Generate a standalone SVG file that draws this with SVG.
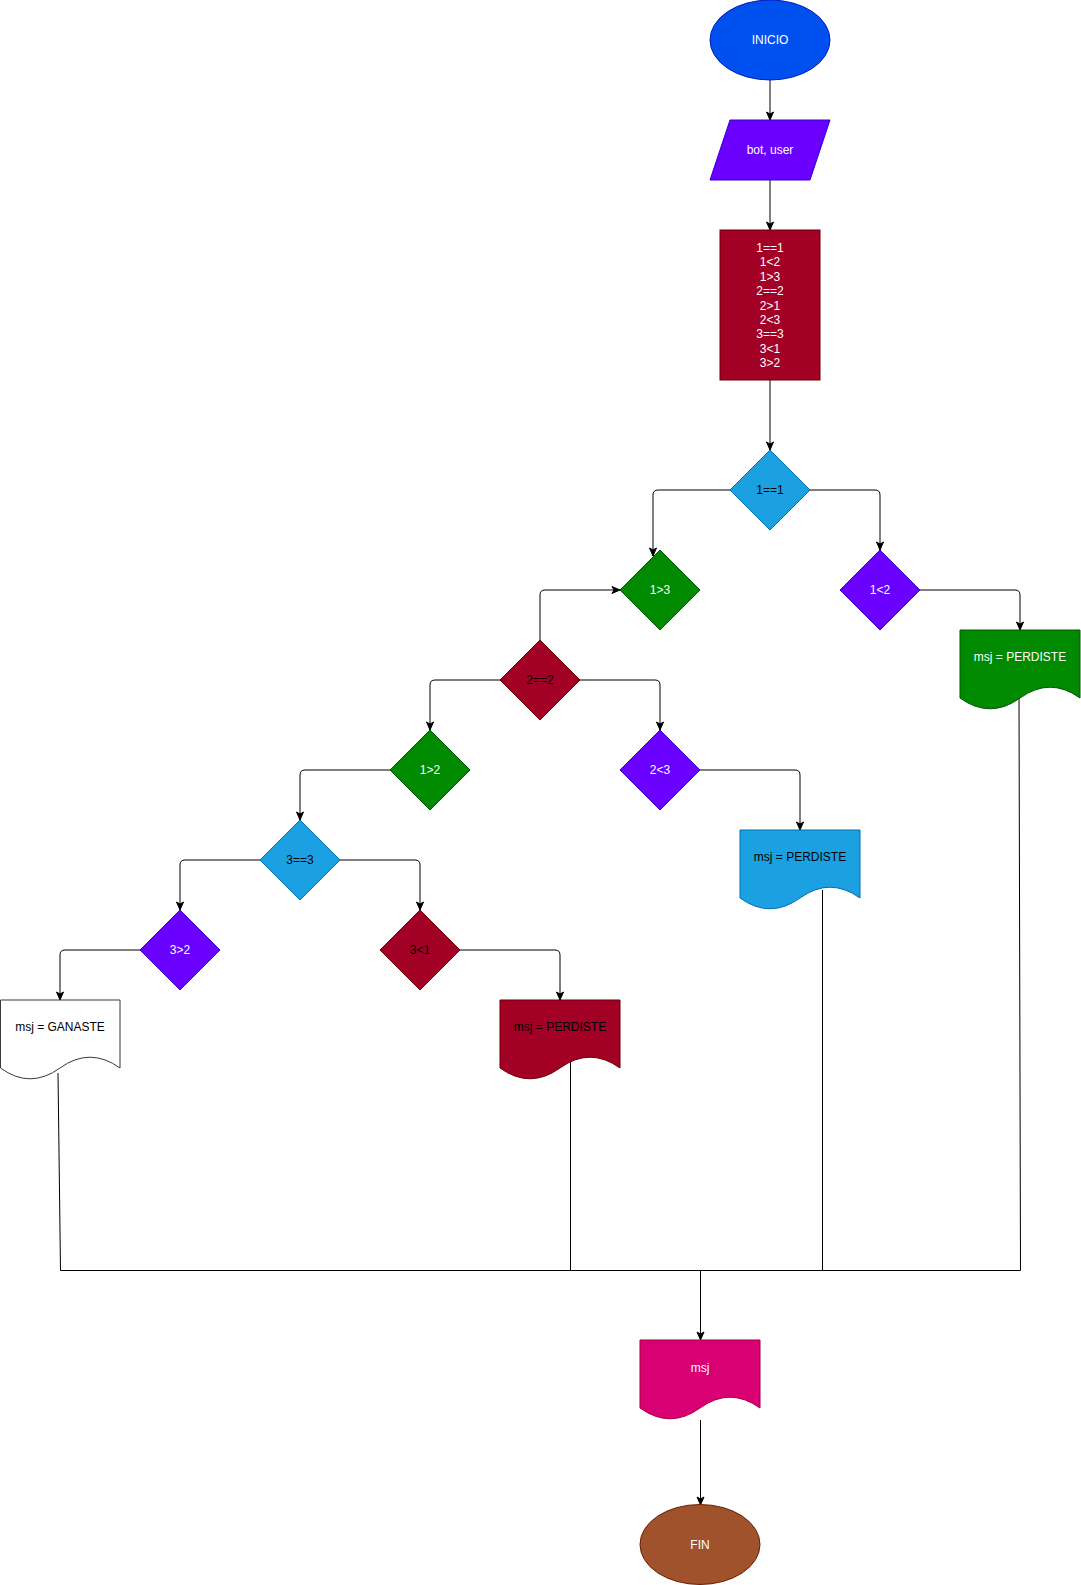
<svg xmlns="http://www.w3.org/2000/svg" width="1081" height="1585" viewBox="0 0 1081 1585">
<style>
text{font-family:"Liberation Sans",Arial,Helvetica,sans-serif;font-size:12px;text-anchor:middle}
.w{fill:#ffffff}
.k{fill:#000000}
.conn{fill:none;stroke:#000000;stroke-width:1}
.blue{fill:#1ba1e2;stroke:#006eaf}
.green{fill:#008a00;stroke:#005700}
.purple{fill:#6a00ff;stroke:#3700cc}
.red{fill:#a20025;stroke:#6f0000}
</style>
<defs>
<marker id="arr" viewBox="0 0 10 10" refX="9" refY="5" markerWidth="10" markerHeight="10" markerUnits="userSpaceOnUse" orient="auto">
<path d="M1,1.5 L9,5 L1,8.5 L3,5 Z" fill="#000000" stroke="#000000" stroke-width="1"/>
</marker>
</defs>
<rect width="1081" height="1585" fill="#ffffff"/>

<g id="connectors">
<path class="conn" d="M770 80 V120" marker-end="url(#arr)"/>
<path class="conn" d="M770 180 V230" marker-end="url(#arr)"/>
<path class="conn" d="M770 380 V450" marker-end="url(#arr)"/>
<path class="conn" d="M730 490 H658 Q653 490 653 495 V556" marker-end="url(#arr)"/>
<path class="conn" d="M810 490 H875 Q880 490 880 495 V550" marker-end="url(#arr)"/>
<path class="conn" d="M920 590 H1015 Q1020 590 1020 595 V630" marker-end="url(#arr)"/>
<path class="conn" d="M540 640 V595 Q540 590 545 590 H620" marker-end="url(#arr)"/>
<path class="conn" d="M500 680 H435 Q430 680 430 685 V730" marker-end="url(#arr)"/>
<path class="conn" d="M580 680 H655 Q660 680 660 685 V730" marker-end="url(#arr)"/>
<path class="conn" d="M390 770 H305 Q300 770 300 775 V820" marker-end="url(#arr)"/>
<path class="conn" d="M700 770 H795 Q800 770 800 775 V830" marker-end="url(#arr)"/>
<path class="conn" d="M260 860 H185 Q180 860 180 865 V910" marker-end="url(#arr)"/>
<path class="conn" d="M340 860 H415 Q420 860 420 865 V910" marker-end="url(#arr)"/>
<path class="conn" d="M140 950 H65 Q60 950 60 955 V1000" marker-end="url(#arr)"/>
<path class="conn" d="M460 950 H555 Q560 950 560 955 V1000" marker-end="url(#arr)"/>
<path class="conn" d="M58 1073 L60.5 1270.5"/>
<path class="conn" d="M570.5 1062 V1270.5"/>
<path class="conn" d="M822.5 890 V1270.5"/>
<path class="conn" d="M1019 698 L1020.5 1270.5"/>
<path class="conn" d="M60.5 1270.5 H1020.5"/>
<path class="conn" d="M700.5 1270.5 V1340" marker-end="url(#arr)"/>
<path class="conn" d="M700.5 1420 V1505" marker-end="url(#arr)"/>
</g>

<g id="inicio">
<ellipse cx="770" cy="40" rx="60" ry="40" fill="#0050ef" stroke="#001dbc"/>
<text class="w" x="770" y="44">INICIO</text>
</g>

<g id="entrada">
<polygon points="730,120 830,120 810,180 710,180" fill="#6a00ff" stroke="#3700cc"/>
<text class="w" x="770" y="154">bot, user</text>
</g>

<g id="proceso">
<rect x="720" y="230" width="100" height="150" class="red"/>
<text class="w" x="770" y="252">1==1</text>
<text class="w" x="770" y="266.4">1&lt;2</text>
<text class="w" x="770" y="280.8">1&gt;3</text>
<text class="w" x="770" y="295.2">2==2</text>
<text class="w" x="770" y="309.6">2&gt;1</text>
<text class="w" x="770" y="324">2&lt;3</text>
<text class="w" x="770" y="338.4">3==3</text>
<text class="w" x="770" y="352.8">3&lt;1</text>
<text class="w" x="770" y="367.2">3&gt;2</text>
</g>

<g id="d1">
<polygon class="blue" points="770,450 810,490 770,530 730,490"/>
<text class="k" x="770" y="494">1==1</text>
</g>
<g id="d2">
<polygon class="green" points="660,550 700,590 660,630 620,590"/>
<text class="w" x="660" y="594">1&gt;3</text>
</g>
<g id="d3">
<polygon class="purple" points="880,550 920,590 880,630 840,590"/>
<text class="w" x="880" y="594">1&lt;2</text>
</g>
<g id="d4">
<polygon class="red" points="540,640 580,680 540,720 500,680"/>
<text class="k" x="540" y="684">2==2</text>
</g>
<g id="d5">
<polygon class="green" points="430,730 470,770 430,810 390,770"/>
<text class="w" x="430" y="774">1&gt;2</text>
</g>
<g id="d6">
<polygon class="purple" points="660,730 700,770 660,810 620,770"/>
<text class="w" x="660" y="774">2&lt;3</text>
</g>
<g id="d7">
<polygon class="blue" points="300,820 340,860 300,900 260,860"/>
<text class="k" x="300" y="864">3==3</text>
</g>
<g id="d8">
<polygon class="purple" points="180,910 220,950 180,990 140,950"/>
<text class="w" x="180" y="954">3&gt;2</text>
</g>
<g id="d9">
<polygon class="red" points="420,910 460,950 420,990 380,950"/>
<text class="k" x="420" y="954">3&lt;1</text>
</g>

<g id="doc-green">
<path class="green" d="M960 630 H1080 V698 Q1050 676.4 1020 698 Q990 719.6 960 698 Z"/>
<text class="w" x="1020" y="661">msj = PERDISTE</text>
</g>
<g id="doc-blue">
<path class="blue" d="M740 830 H860 V898 Q830 876.4 800 898 Q770 919.6 740 898 Z"/>
<text class="k" x="800" y="861">msj = PERDISTE</text>
</g>
<g id="doc-ganaste">
<path d="M0.5 1000 H120 V1068 Q90 1046.4 60 1068 Q30 1089.6 0.5 1068 Z" fill="#ffffff" stroke="#36393d"/>
<text class="k" x="60" y="1031">msj = GANASTE</text>
</g>
<g id="doc-red">
<path class="red" d="M500 1000 H620 V1068 Q590 1046.4 560 1068 Q530 1089.6 500 1068 Z"/>
<text class="k" x="560" y="1031">msj = PERDISTE</text>
</g>
<g id="doc-msj">
<path d="M640 1340 H760 V1408 Q730 1386.4 700 1408 Q670 1429.6 640 1408 Z" fill="#d80073" stroke="#a50040"/>
<text class="w" x="700" y="1372">msj</text>
</g>

<g id="fin">
<ellipse cx="700" cy="1544.5" rx="60" ry="40" fill="#a0522d" stroke="#6d1f00"/>
<text class="w" x="700" y="1548.5">FIN</text>
</g>
</svg>
